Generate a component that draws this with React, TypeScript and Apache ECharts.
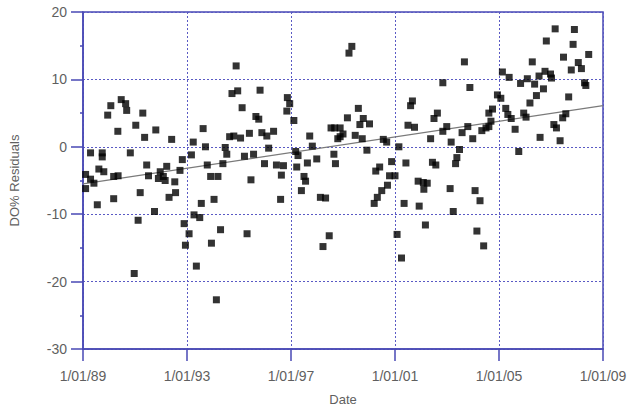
import React, { useEffect, useRef } from "react";
import * as echarts from "echarts";

const years = [
  1989.10, 1989.10, 1989.29, 1989.29, 1989.42, 1989.55, 1989.61, 1989.74, 1989.74, 1989.80,
  1989.95, 1990.07, 1990.18, 1990.18, 1990.34, 1990.35, 1990.47, 1990.64, 1990.68, 1990.82,
  1990.97, 1991.03, 1991.12, 1991.20, 1991.30, 1991.37, 1991.45, 1991.52, 1991.75, 1991.80,
  1991.90, 1991.97, 1992.09, 1992.16, 1992.22, 1992.31, 1992.41, 1992.53, 1992.56, 1992.73,
  1992.82, 1992.89, 1992.94, 1993.08, 1993.17, 1993.24, 1993.27, 1993.36, 1993.49, 1993.55,
  1993.62, 1993.71, 1993.78, 1993.91, 1993.94, 1994.04, 1994.13, 1994.19, 1994.29, 1994.38,
  1994.47, 1994.53, 1994.64, 1994.73, 1994.80, 1994.89, 1994.95, 1995.06, 1995.12, 1995.21,
  1995.31, 1995.40, 1995.46, 1995.56, 1995.65, 1995.76, 1995.81, 1995.88, 1995.98, 1996.07,
  1996.14, 1996.33, 1996.44, 1996.60, 1996.63, 1996.71, 1996.86, 1996.95, 1996.84, 1997.11,
  1997.18, 1997.27, 1997.22, 1997.40, 1997.50, 1997.56, 1997.72, 1997.82, 1997.63, 1997.99,
  1998.13, 1998.23, 1998.33, 1998.47, 1998.54, 1998.68, 1998.65, 1998.71, 1998.80, 1998.89,
  1999.00, 1998.89, 1999.17, 1999.23, 1999.34, 1999.47, 1999.59, 1999.65, 1999.74, 1999.78,
  1999.92, 2000.02, 2000.20, 2000.26, 2000.32, 2000.41, 2000.49, 2000.55, 2000.68, 2000.71,
  2000.87, 2000.79, 2001.00, 2001.08, 2001.15, 2001.25, 2001.35, 2001.42, 2001.50, 2001.60,
  2001.67, 2001.75, 2001.89, 2001.93, 2002.09, 2002.24, 2002.11, 2002.17, 2002.37, 2002.44,
  2002.57, 2002.50, 2002.63, 2002.84, 2002.84, 2002.99, 2003.12, 2003.16, 2003.24, 2003.33,
  2003.38, 2003.48, 2003.58, 2003.67, 2003.80, 2003.88, 2003.99, 2004.08, 2004.15, 2004.27,
  2004.41, 2004.34, 2004.50, 2004.61, 2004.75, 2004.69, 2004.61, 2004.94, 2005.07, 2005.13,
  2005.39, 2005.26, 2005.34, 2005.47, 2005.62, 2005.76, 2005.83, 2005.95, 2006.04, 2006.09,
  2006.19, 2006.28, 2006.37, 2006.44, 2006.54, 2006.58, 2006.71, 2006.77, 2006.82, 2006.98,
  2007.02, 2007.11, 2007.21, 2007.16, 2007.35, 2007.45, 2007.57, 2007.48, 2007.68, 2007.78,
  2007.85, 2007.90, 2008.05, 2008.17, 2008.29, 2008.34, 2008.45,
];

const residuals = [
  -4.1, -6.2, -0.9, -4.8, -5.4, -8.6, -3.3, -0.9, -1.5, -3.7,
  4.7, 6.1, -4.4, -7.7, 2.3, -4.3, 7.0, 6.4, 5.4, -0.9,
  -18.8, 3.2, -10.9, -6.8, 5.0, 1.4, -2.7, -4.3, -9.6, 2.5,
  -4.7, -3.7, -4.4, -5.0, -2.9, -7.5, 1.1, -5.2, -6.8, -3.5,
  -1.9, -11.4, -14.6, -12.9, -1.2, 0.7, -10.1, -17.7, -10.5, -8.4,
  2.7, 0.0, -2.7, -4.4, -14.3, -7.8, -22.7, -4.4, -12.3, -2.5,
  -0.1, -1.1, 1.5, 7.9, 1.6, 12.0, 8.3, 1.3, 5.8, -1.4,
  -12.9, 2.0, -4.9, -1.1, 4.5, 4.1, 8.4, 2.1, -2.5, 1.6,
  -0.2, 2.3, -2.7, -7.8, -4.2, -2.8, 7.3, 6.4, 5.3, 3.9,
  -0.7, -1.3, -3.0, -6.5, -4.4, -5.1, 1.6, 0.1, -2.4, -1.8,
  -7.5, -14.8, -7.6, -13.2, 2.8, 2.8, -1.1, -2.5, 1.2, 2.8,
  1.9, 1.5, 4.3, 13.9, 14.9, 1.7, 5.7, 3.3, 1.2, 4.2,
  -0.5, 3.4, -8.4, -3.6, -7.5, -3.0, -6.5, 1.1, 0.7, -5.7,
  -2.2, -4.3, -4.3, -13.0, 0.0, -16.5, -8.4, -2.4, 3.2, 6.1,
  6.8, 2.9, -5.1, -8.8, -5.3, -5.4, -6.3, -11.6, 1.2, -2.3,
  -2.7, 4.2, 5.0, 9.5, 2.3, 3.0, -6.2, 0.7, -9.6, -2.5,
  -1.6, -0.4, 2.1, 12.6, 3.0, 8.8, 1.2, -6.5, -12.5, -8.0,
  -14.7, 2.4, 2.8, 5.0, 5.6, 3.8, 3.0, 7.7, 7.2, 11.1,
  10.3, 5.7, 4.8, 4.2, 2.6, -0.7, 9.4, 5.0, 4.4, 10.1,
  6.5, 12.6, 9.3, 7.6, 10.5, 1.4, 8.6, 11.2, 15.7, 10.8,
  10.2, 3.3, 2.8, 17.5, 0.9, 4.3, 4.9, 13.3, 7.4, 11.4,
  15.2, 17.4, 12.5, 11.6, 9.5, 9.1, 13.7,
];

const trendYears = [1989, 2009];
const trendValues = [-5.5, 6.1];

const axisBlue = "#4848b4";
const gridBlue = "#5a5ac4";
const labelGray = "#5f5f5f";
const fontFamily = "'Liberation Sans', Arial, sans-serif";

export default function App() {
  const ref = useRef<HTMLDivElement>(null);

  useEffect(() => {
    if (!ref.current) return;
    const chart = echarts.init(ref.current, undefined, { renderer: "svg" });
    const points = years.map((y, i) => [y, residuals[i]]);
    const trend = trendYears.map((y, i) => [y, trendValues[i]]);
    chart.setOption({
      animation: false,
      backgroundColor: "#ffffff",
      grid: {
        left: 79,
        right: 27,
        top: 12,
        bottom: 61,
        show: true,
        borderColor: axisBlue,
        borderWidth: 1.5,
        backgroundColor: "transparent",
      },
      xAxis: {
        type: "value",
        min: 1989,
        max: 2009,
        interval: 4,
        name: "Date",
        nameLocation: "middle",
        nameGap: 44,
        nameTextStyle: { color: labelGray, fontSize: 13, fontFamily },
        axisLine: { show: true, onZero: false, lineStyle: { color: axisBlue, width: 1.5 } },
        axisTick: { show: true, inside: false, length: 12, lineStyle: { color: axisBlue, width: 1.5 } },
        axisLabel: {
          color: labelGray,
          fontSize: 14,
          fontFamily,
          margin: 20,
          formatter: (v: number) => "1/01/" + String(Math.round(v)).slice(2),
        },
        splitLine: { show: true, lineStyle: { color: gridBlue, type: [2, 2], width: 1 } },
      },
      yAxis: {
        type: "value",
        min: -30,
        max: 20,
        interval: 10,
        name: "DO% Residuals",
        nameLocation: "middle",
        nameGap: 62,
        nameTextStyle: { color: labelGray, fontSize: 13, fontFamily },
        axisLine: { show: true, onZero: false, lineStyle: { color: axisBlue, width: 1.5 } },
        axisTick: { show: true, inside: false, length: 12, lineStyle: { color: axisBlue, width: 1.5 } },
        minorTick: { show: true, splitNumber: 2, length: 3, lineStyle: { color: axisBlue, width: 1.5 } },
        axisLabel: { color: labelGray, fontSize: 14, fontFamily, margin: 16 },
        splitLine: { show: true, lineStyle: { color: gridBlue, type: [2, 2], width: 1 } },
      },
      series: [
        {
          type: "line",
          data: trend,
          showSymbol: false,
          symbol: "none",
          lineStyle: { color: "#7a7a7a", width: 1.2 },
          z: 2,
        },
        {
          type: "scatter",
          data: points,
          symbol: "rect",
          symbolSize: 7,
          itemStyle: { color: "#000000" },
          z: 3,
        },
      ],
    });
    return () => chart.dispose();
  }, []);

  return (
    <div
      ref={ref}
      style={{ position: "absolute", left: 0, top: 0, width: 630, height: 411 }}
    />
  );
}
